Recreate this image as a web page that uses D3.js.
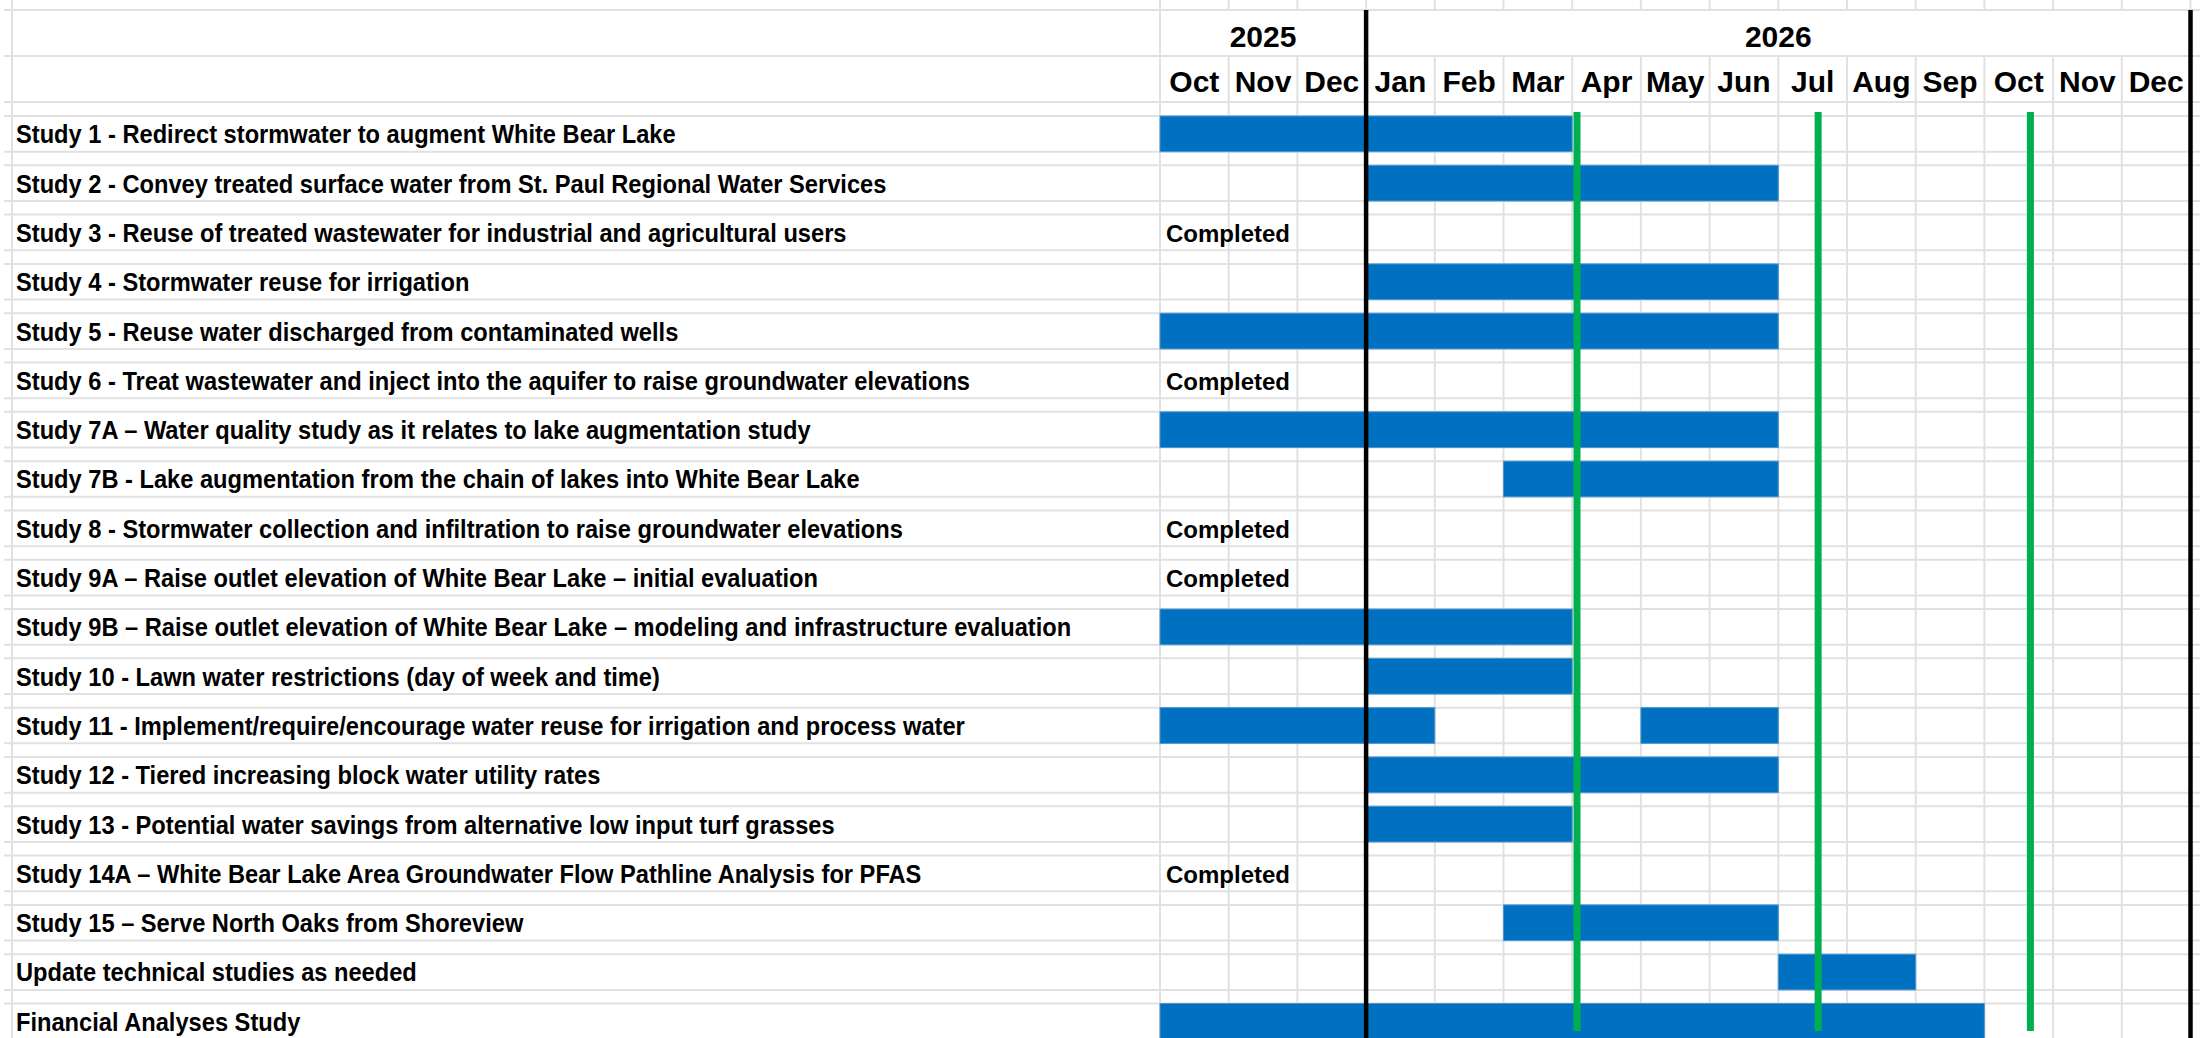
<!DOCTYPE html>
<meta charset="utf-8">
<style>
body { margin: 0; background: #fff; }
.task { font: bold 26px "Liberation Sans", Arial, sans-serif; fill: #000; }
.head { font: bold 30px "Liberation Sans", Arial, sans-serif; fill: #000; }
.done { font: bold 24px "Liberation Sans", Arial, sans-serif; fill: #000; }
</style>
<body>
<script src="https://d3js.org/d3.v7.min.js"></script>
<script>

var width = 2200, height = 1038;

// months from Oct 2025 to Dec 2026
var months = ["Oct", "Nov", "Dec", "Jan", "Feb", "Mar", "Apr", "May", "Jun", "Jul", "Aug", "Sep", "Oct", "Nov", "Dec"];
var years = ["2025", "2026"];
var yearStart = [0, 3];
var yearEnd = [3, 15];

var tasks = [
  "Study 1 - Redirect stormwater to augment White Bear Lake",
  "Study 2 - Convey treated surface water from St. Paul Regional Water Services",
  "Study 3 - Reuse of treated wastewater for industrial and agricultural users",
  "Study 4 - Stormwater reuse for irrigation",
  "Study 5 - Reuse water discharged from contaminated wells",
  "Study 6 - Treat wastewater and inject into the aquifer to raise groundwater elevations",
  "Study 7A \u2013 Water quality study as it relates to lake augmentation study",
  "Study 7B - Lake augmentation from the chain of lakes into White Bear Lake",
  "Study 8 - Stormwater collection and infiltration to raise groundwater elevations",
  "Study 9A \u2013 Raise outlet elevation of White Bear Lake \u2013 initial evaluation",
  "Study 9B \u2013 Raise outlet elevation of White Bear Lake \u2013 modeling and infrastructure evaluation",
  "Study 10 - Lawn water restrictions (day of week and time)",
  "Study 11 - Implement/require/encourage water reuse for irrigation and process water",
  "Study 12 - Tiered increasing block water utility rates",
  "Study 13 - Potential water savings from alternative low input turf grasses",
  "Study 14A \u2013 White Bear Lake Area Groundwater Flow Pathline Analysis for PFAS",
  "Study 15 \u2013 Serve North Oaks from Shoreview",
  "Update technical studies as needed",
  "Financial Analyses Study"
];

// bar segments per task: [first month index, month index after last]
var segments = [
  [[0, 6]],
  [[3, 9]],
  [],
  [[3, 9]],
  [[0, 9]],
  [],
  [[0, 9]],
  [[5, 9]],
  [],
  [],
  [[0, 6]],
  [[3, 6]],
  [[0, 4], [7, 9]],
  [[3, 9]],
  [[3, 6]],
  [],
  [[5, 9]],
  [[9, 11]],
  [[0, 12]]
];

var taskStatus = ["", "", "Completed", "", "", "Completed", "", "", "Completed", "Completed",
  "", "", "", "", "", "Completed", "", "", ""];

// green marker lines, in months from start of Oct 2025
var markers = [6.07, 9.58, 12.67];

var left = 1160, right = 2190.5;

var x = d3.scaleLinear()
    .domain([0, months.length])
    .range([left, right]);

var y = d3.scaleBand()
    .domain(d3.range(tasks.length))
    .range([116, 1039.2])
    .paddingInner(0.276);

var svg = d3.select("body").append("svg")
    .attr("width", width)
    .attr("height", height)
    .style("display", "block");

var grid = svg.append("g")
    .attr("stroke", "#e1e1e1")
    .attr("stroke-width", 2);

// horizontal gridlines
var hLines = [10, 56, 102];
tasks.forEach((d, i) => {
  hLines.push(y(i), y(i) + y.bandwidth());
});
grid.selectAll("line.h")
  .data(hLines)
  .join("line")
    .attr("class", "h")
    .attr("x1", 4).attr("x2", width)
    .attr("y1", d => d).attr("y2", d => d);

// vertical gridlines, month boundaries
var bounds = d3.range(months.length + 1);
grid.selectAll("line.top")
  .data(bounds)
  .join("line")
    .attr("class", "top")
    .attr("x1", d => x(d)).attr("x2", d => x(d))
    .attr("y1", 0).attr("y2", 10);
grid.selectAll("line.v")
  .data(bounds)
  .join("line")
    .attr("class", "v")
    .attr("x1", d => x(d)).attr("x2", d => x(d))
    .attr("y1", 56).attr("y2", height);
grid.append("line")
    .attr("x1", x(0)).attr("x2", x(0))
    .attr("y1", 0).attr("y2", 56);
grid.append("line")
    .attr("x1", 12).attr("x2", 12)
    .attr("y1", 0).attr("y2", height);

// bars
var bars = [];
segments.forEach((segs, i) => segs.forEach(s => bars.push({row: i, start: s[0], end: s[1]})));

svg.append("g")
  .selectAll("rect")
  .data(bars)
  .join("rect")
    .attr("x", d => x(d.start))
    .attr("y", d => y(d.row))
    .attr("width", d => x(d.end) - x(d.start))
    .attr("height", y.bandwidth())
    .attr("fill", "#0070c0")
    .attr("stroke", "#4d94d1")
    .attr("stroke-width", 1);

// year separators
svg.append("g")
  .selectAll("line")
  .data([3, months.length])
  .join("line")
    .attr("x1", d => x(d)).attr("x2", d => x(d))
    .attr("y1", 10).attr("y2", height)
    .attr("stroke", "#000")
    .attr("stroke-width", 4.5);

// green markers
svg.append("g")
  .selectAll("line")
  .data(markers)
  .join("line")
    .attr("x1", d => x(d)).attr("x2", d => x(d))
    .attr("y1", 112).attr("y2", 1031)
    .attr("stroke", "#00b050")
    .attr("stroke-width", 7);

// headers
svg.append("g")
  .selectAll("text")
  .data(years)
  .join("text")
    .attr("class", "head")
    .attr("x", (d, i) => (x(yearStart[i]) + x(yearEnd[i])) / 2)
    .attr("y", 47)
    .attr("text-anchor", "middle")
    .text(d => d);

svg.append("g")
  .selectAll("text")
  .data(months)
  .join("text")
    .attr("class", "head")
    .attr("x", (d, i) => x(i + 0.5))
    .attr("y", 92)
    .attr("text-anchor", "middle")
    .text(d => d);

// task labels, condensed horizontally like a narrow face
svg.append("g")
  .selectAll("text")
  .data(tasks)
  .join("text")
    .attr("class", "task")
    .attr("transform", (d, i) => `translate(16, ${y(i) + 27.3}) scale(0.91, 1)`)
    .text(d => d);

svg.append("g")
  .selectAll("text")
  .data(taskStatus.map((s, i) => ({s: s, i: i})).filter(d => d.s))
  .join("text")
    .attr("class", "done")
    .attr("x", x(0) + 6)
    .attr("y", d => y(d.i) + 27.5)
    .text(d => d.s);

</script>
